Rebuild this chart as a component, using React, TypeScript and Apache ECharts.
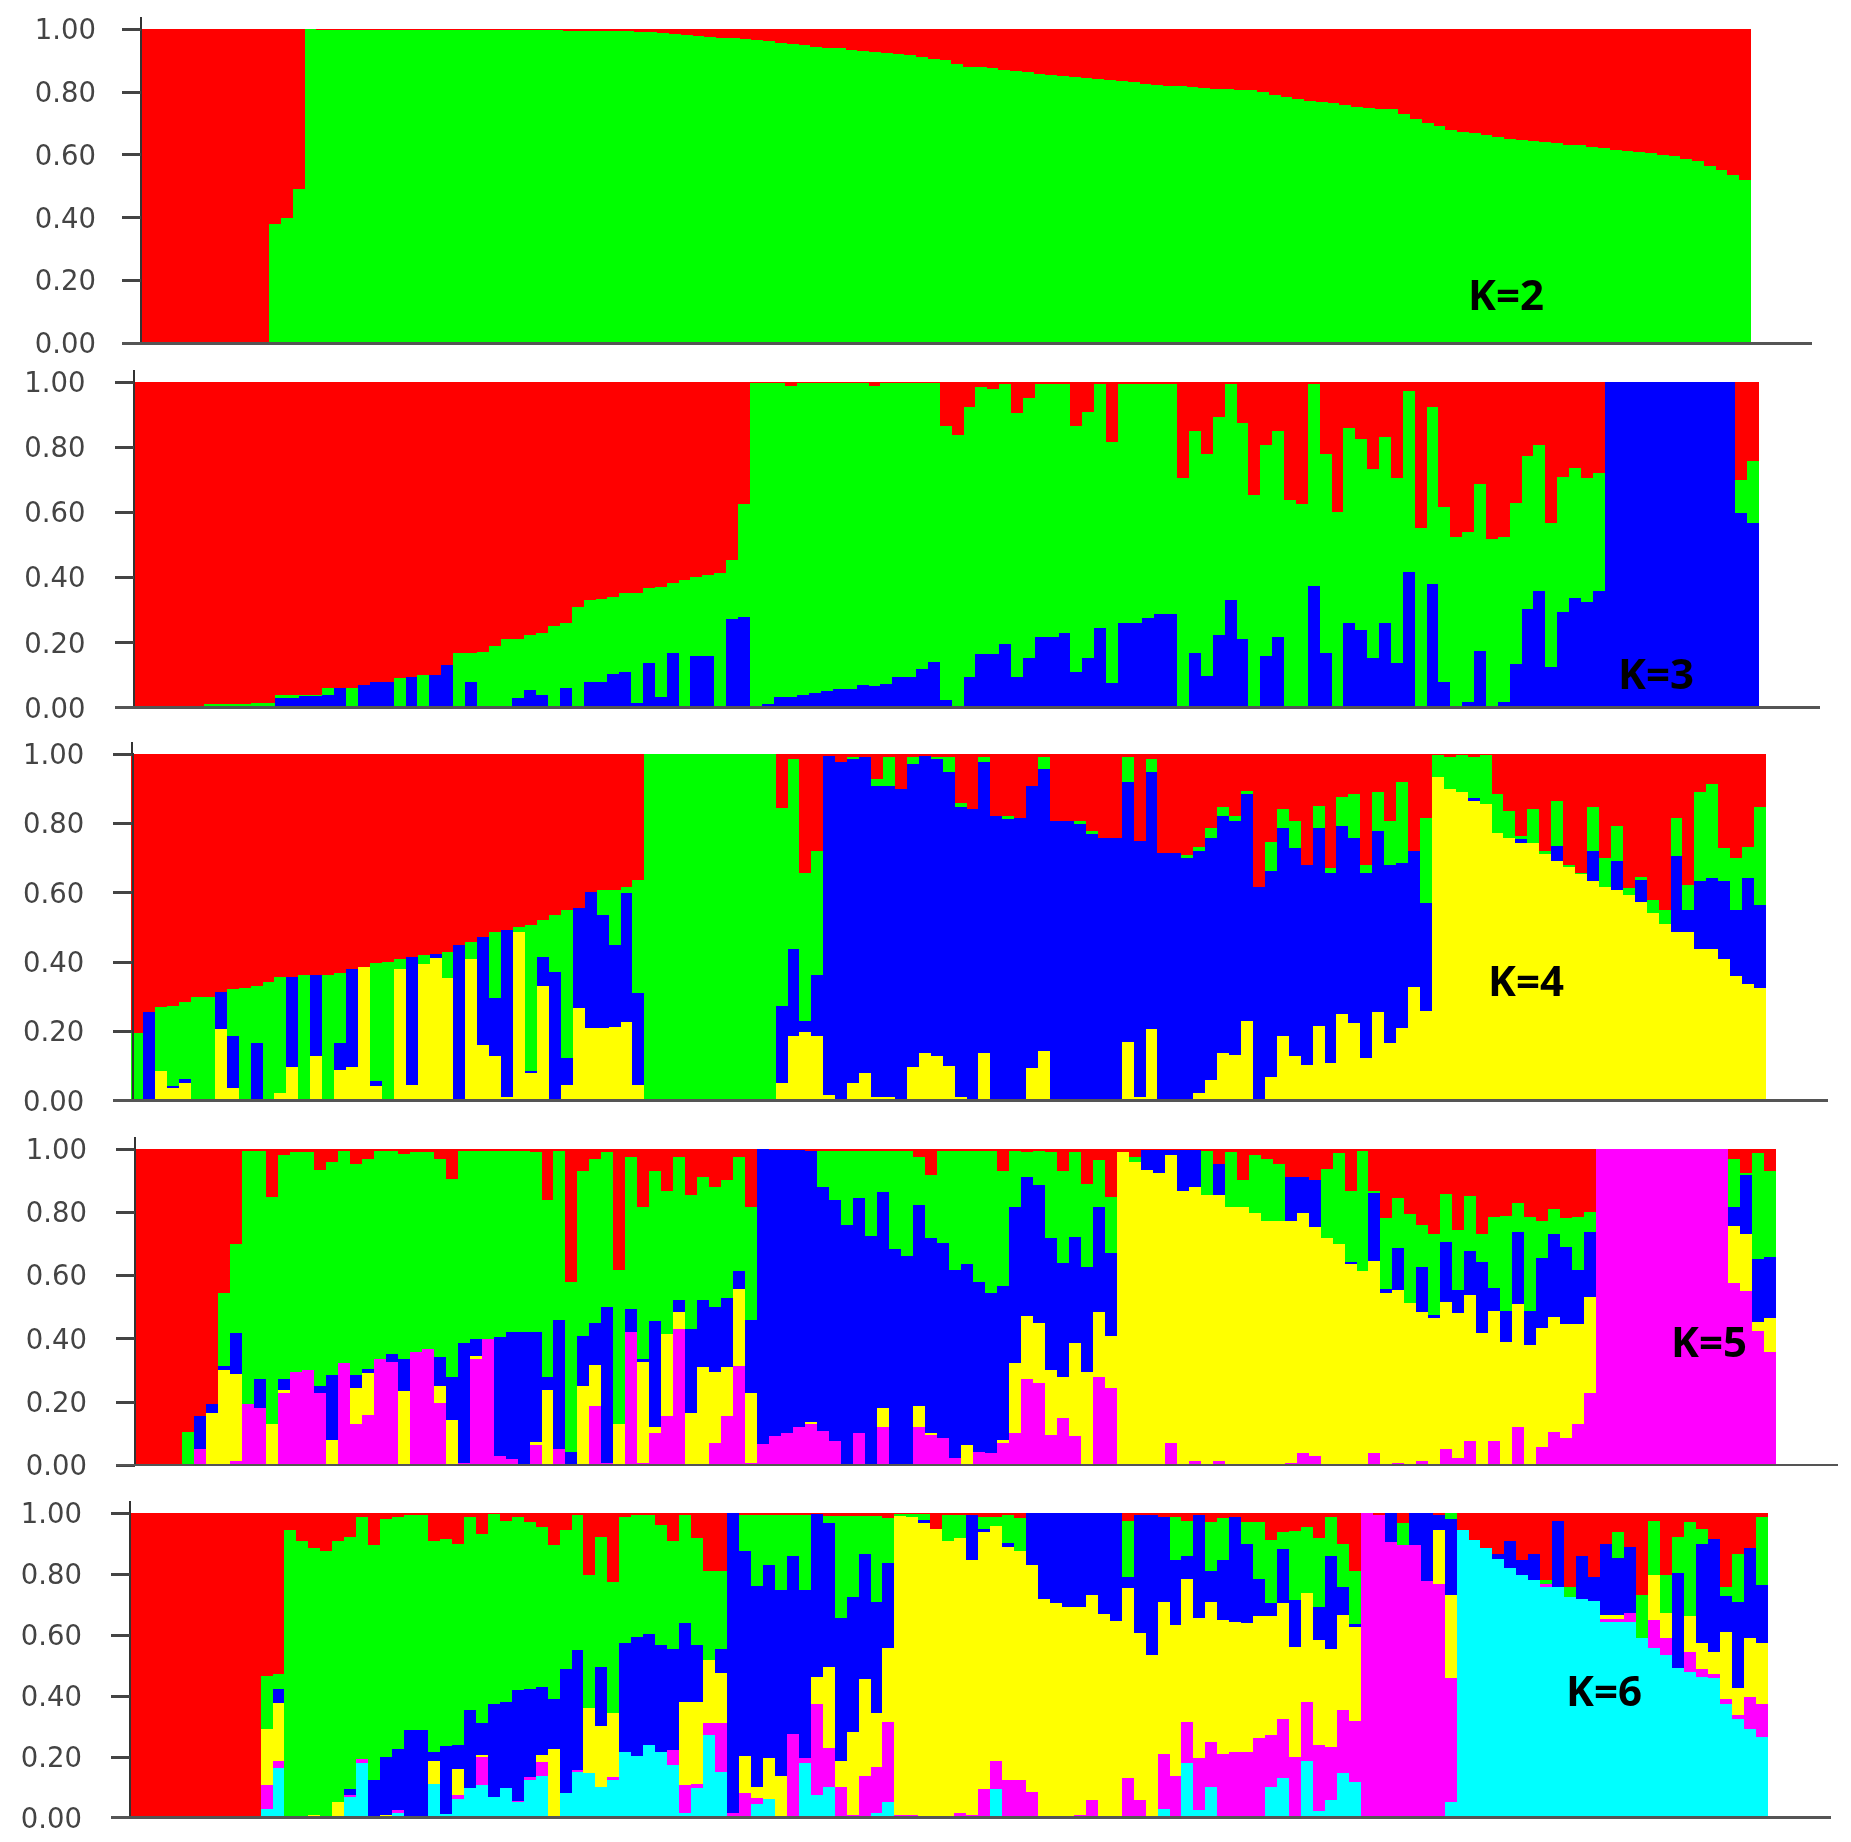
import React, { useEffect, useRef } from "react";
import * as echarts from "echarts";

const individuals = Array.from({ length: 137 }, (_, i) => String(i + 1));
const tickLabels = ["0.00", "0.20", "0.40", "0.60", "0.80", "1.00"];

// Each array holds the top edge of one colour at each bar (colours stack bottom to top, red fills the rest).
const k2Green = [
  0,0,0,0,0,0,0,0,0,0,
  0,.38,.40,.49,1,.997,.997,.997,.997,.997,
  .997,.997,.997,.997,.997,.997,.997,.997,.997,.997,
  .997,.997,.997,.997,.997,.997,.995,.995,.995,.995,
  .995,.995,.992,.99,.988,.985,.982,.979,.975,.972,
  .97,.968,.965,.962,.955,.952,.948,.944,.94,.938,
  .934,.93,.927,.924,.92,.917,.912,.905,.90,.89,
  .88,.878,.875,.87,.866,.862,.857,.855,.852,.848,
  .845,.842,.838,.834,.83,.826,.823,.82,.818,.815,
  .813,.81,.808,.806,.805,.80,.79,.783,.778,.772,
  .768,.763,.757,.752,.75,.747,.744,.73,.715,.70,
  .69,.68,.673,.668,.662,.655,.65,.647,.645,.642,
  .638,.632,.63,.625,.62,.615,.612,.608,.605,.60,
  .595,.585,.58,.565,.55,.535,.52,
];

const k3Blue = [
  0,0,0,0,0,0,0,0,0,0,
  .005,0,.03,.03,.035,.035,.04,.06,0,.07,
  .08,.08,0,.095,0,.10,.13,0,.08,0,
  0,0,.03,.055,.04,0,.06,0,.08,.08,
  .105,.11,.013,.138,.032,.167,0,.159,.159,0,
  .271,.279,.003,.01,.032,.032,.039,.045,.05,.057,
  .057,.07,.066,.073,.095,.095,.118,.14,.024,0,
  .095,.165,.165,.195,.095,.154,.218,.218,.23,.11,
  .154,.245,.075,.259,.259,.274,.288,.288,0,.167,
  .097,.223,.33,.21,0,.159,.216,0,0,.374,
  .167,0,.259,.238,.154,.259,.138,.418,0,.38,
  .08,0,.018,.174,0,.018,.133,.302,.359,.126,
  .295,.338,.323,.359,1,1,1,1,1,1,
  1,1,1,1,1,.597,.566,
];
const k3Green = [
  0,0,0,0,0,0,.01,.01,.01,.01,
  .015,.015,.04,.04,.04,.04,.06,.06,.06,.07,
  .08,.08,.09,.095,.10,.10,.13,.167,.167,.172,
  .19,.21,.21,.223,.23,.252,.26,.31,.33,.333,
  .339,.351,.353,.366,.371,.384,.392,.40,.407,.415,
  .453,.624,.996,.997,.997,.988,.997,.997,.997,.997,
  .997,.997,.988,.997,.997,.997,.997,.997,.866,.837,
  .924,.986,.978,.994,.904,.95,.994,.994,.994,.866,
  .909,.994,.817,.994,.994,.994,.994,.994,.704,.85,
  .78,.893,.994,.873,.653,.807,.85,.638,.625,.994,
  .78,.602,.858,.824,.732,.83,.704,.973,.553,.922,
  .617,.525,.538,.687,.517,.525,.63,.773,.807,.566,
  .707,.737,.704,.722,1,1,1,1,1,1,
  1,1,1,1,1,.70,.758,
];

const k4Yellow = [
  0,0,.087,.036,.05,0,0,.206,.036,0,
  0,0,.023,.096,0,.129,0,.088,.096,.385,
  .042,0,.379,.045,.394,.413,.353,0,.408,.16,
  .129,.012,.488,.079,.331,0,.045,.266,.209,.209,
  .213,.228,.045,0,0,0,0,0,0,0,
  0,0,0,0,.052,.187,.199,.187,.016,0,
  .05,.081,.012,.012,0,.096,.137,.129,.10,.012,
  0,.138,0,0,0,.093,.144,0,0,0,
  0,0,0,.17,.012,.207,0,0,0,.023,
  .06,.138,.132,.23,0,.067,.187,.129,.103,.215,
  .11,.25,.223,.122,.257,.165,.209,.329,.259,.933,
  .898,.891,.863,.856,.771,.757,.742,.742,.713,.692,
  .675,.654,.635,.615,.608,.593,.574,.54,.51,.488,
  .488,.437,.437,.408,.36,.337,.324,
];
const k4Blue = [
  0,.257,.087,.042,.064,0,0,.314,.187,0,
  .165,0,.023,.358,0,.364,0,.165,.379,.385,
  .058,0,.379,.415,.394,.423,.353,.449,.408,.473,
  .295,.492,.488,.087,.415,.372,.122,.555,.601,.536,
  .449,.598,.31,0,0,0,0,0,0,0,
  0,0,0,0,.273,.437,.23,.364,.994,.978,
  .987,.992,.908,.908,.898,.97,.994,.985,.949,.846,
  .84,.976,.821,.812,.814,.908,.956,.808,.808,.798,
  .769,.757,.757,.92,.75,.949,.715,.715,.699,.72,
  .757,.821,.808,.885,.615,.663,.786,.728,.68,.786,
  .656,.792,.757,.656,.779,.68,.685,.721,.571,.933,
  .898,.891,.872,.856,.771,.757,.754,.742,.713,.735,
  .675,.654,.721,.615,.692,.593,.638,.54,.51,.706,
  .55,.634,.641,.634,.55,.641,.564,
];
const k4Green = [
  .196,.257,.271,.273,.286,.30,.30,.314,.321,.324,
  .331,.343,.358,.358,.364,.364,.364,.369,.379,.385,
  .398,.40,.408,.415,.42,.423,.43,.449,.459,.473,
  .488,.492,.50,.507,.521,.535,.55,.555,.601,.608,
  .608,.615,.637,1,1,1,1,1,1,1,
  1,1,1,1,.843,.985,.658,.721,.994,.978,
  .99,.992,.927,.99,.898,.99,.994,.992,.99,.858,
  .84,.99,.821,.821,.814,.908,.99,.808,.808,.808,
  .779,.757,.757,.99,.75,.985,.715,.715,.709,.731,
  .786,.848,.821,.893,.615,.747,.84,.808,.68,.85,
  .67,.877,.885,.68,.891,.808,.92,.721,.814,.997,
  .992,.997,.992,.997,.885,.836,.763,.84,.721,.863,
  .68,.658,.848,.699,.792,.613,.646,.579,.55,.814,
  .622,.891,.913,.728,.699,.733,.848,
];

const k5Magenta = [
  0,0,0,0,0,.05,0,0,.014,.193,
  .18,0,.227,.295,.30,.229,0,.322,.13,.158,
  .334,.327,0,.357,.366,.197,0,.005,.334,.40,
  .028,.02,0,.063,0,.05,0,0,.187,.005,
  0,.422,.005,.10,.155,.429,0,0,.07,.155,
  .313,.007,.066,.092,.10,.121,.13,.109,.077,0,
  .10,0,.121,0,0,.121,.095,.084,.021,0,
  .042,.037,.069,.10,.271,.258,.095,.15,.092,0,
  .28,.243,0,0,0,0,.07,0,.014,0,
  .014,0,0,0,0,0,.007,.037,.028,0,
  0,0,0,.037,0,.007,0,.014,0,.05,
  .021,.077,0,.077,0,.119,0,.056,.105,.084,
  .13,.229,1,1,1,1,1,1,1,1,
  1,1,1,.575,.552,.425,.359,
];
const k5Yellow = [
  0,0,0,0,0,.05,.166,.30,.287,.193,
  .18,.13,.237,.295,.30,.229,.079,.322,.243,.292,
  .334,.327,.235,.357,.366,.251,.142,.005,.345,.40,
  .03,.02,0,.074,.237,.05,0,.251,.316,.005,
  .13,.422,.327,.119,.415,.485,.166,.309,.295,.309,
  .556,.229,.066,.092,.10,.121,.137,.109,.077,0,
  .10,0,.179,0,0,.187,.102,.084,.021,.063,
  .042,.037,.079,.322,.472,.45,.30,.28,.387,.295,
  .485,.408,.992,.96,.934,.925,.98,.868,.881,.854,
  .854,.815,.815,.796,.773,.773,.773,.796,.754,.717,
  .70,.636,.615,.647,.545,.554,.514,.485,.464,.517,
  .482,.538,.417,.488,.39,.51,.38,.432,.467,.446,
  .446,.531,1,1,1,1,1,1,1,1,
  1,1,1,.756,.731,.454,.464,
];
const k5Blue = [
  0,0,0,0,0,.155,.193,.313,.417,.193,
  .271,.13,.271,.295,.30,.25,.285,.322,.285,.303,
  .334,.35,.334,.357,.366,.343,.28,.385,.40,.40,
  .406,.42,.42,.42,.277,.459,.042,.408,.45,.50,
  .13,.493,.334,.457,.415,.522,.429,.522,.501,.53,
  .615,.459,1,.997,.997,.997,.995,.881,.839,.759,
  .844,.725,.865,.682,.661,.823,.717,.701,.617,.636,
  .578,.545,.566,.815,.91,.886,.717,.638,.723,.626,
  .815,.672,.992,.96,.997,.997,.997,.997,.997,.854,
  .953,.815,.815,.796,.773,.773,.91,.91,.902,.717,
  .70,.643,.615,.86,.556,.686,.514,.628,.475,.707,
  .554,.678,.643,.559,.488,.738,.488,.654,.731,.689,
  .617,.738,1,1,1,1,1,1,1,1,
  1,1,1,.815,.918,.651,.657,
];
const k5Green = [
  0,0,0,0,.105,.155,.193,.543,.70,.995,
  .995,.847,.98,.99,.99,.934,.96,.995,.953,.967,
  .995,.995,.983,.99,.99,.967,.904,.995,.995,.995,
  .995,.995,.995,.99,.839,.995,.58,.931,.967,.99,
  .617,.974,.818,.931,.868,.974,.854,.91,.881,.902,
  .974,.815,1,.997,.997,.997,.995,.995,.995,.995,
  .995,.995,.995,.995,.995,.976,.918,.995,.995,.995,
  .995,.995,.931,.995,.99,.995,.99,.931,.99,.889,
  .965,.847,.992,.976,.997,.997,.997,.997,.997,.995,
  .953,.99,.902,.98,.967,.953,.91,.91,.902,.936,
  .988,.867,.995,.868,.781,.844,.794,.76,.731,.858,
  .744,.851,.731,.784,.788,.828,.786,.773,.809,.781,
  .786,.802,1,1,1,1,1,1,1,1,
  1,1,1,.967,.923,.988,.931,
];

const k6Cyan = [
  0,0,0,0,0,0,0,0,0,0,
  0,.03,.162,0,0,0,0,0,.067,.179,
  0,0,.014,0,0,.11,.011,.06,.096,.107,
  .069,.096,.053,.124,.137,0,.08,.151,.146,.102,
  .124,.217,.203,.239,.217,.173,.016,.096,.272,.151,
  0,0,.045,.06,0,0,.18,.074,.102,0,
  0,0,.016,.053,0,0,0,0,0,0,
  0,0,.093,0,0,0,0,0,0,0,
  0,0,0,0,0,0,.03,0,.179,.025,
  .102,0,0,0,0,.102,.131,0,.187,.023,
  .058,.146,.118,0,0,0,0,0,0,0,
  .053,.945,.912,.885,.849,.819,.797,.781,.759,.757,
  .724,.72,.713,.644,.644,.644,.589,.556,.534,.491,
  .48,.463,.458,.374,.323,.29,.266,
];
const k6Magenta = [
  0,0,0,0,0,0,0,0,0,0,
  0,.107,.187,0,0,0,0,0,.074,.192,
  0,0,.025,0,0,.11,.011,.074,.096,.20,
  .069,.096,.056,.133,.184,0,.08,.157,.146,.102,
  .133,.217,.203,.239,.217,.222,.107,.11,.31,.31,
  .016,.08,.064,.06,0,.275,.195,.373,.228,.102,
  .009,.137,.168,.315,.008,.009,0,0,0,.014,
  .009,.093,.187,.124,.124,.085,0,0,0,.009,
  .058,0,0,.129,.058,0,.209,.137,.315,.195,
  .25,.209,.217,.217,.261,.272,.323,.20,.381,.239,
  .231,.354,.319,1,.995,.907,.896,.896,.776,.768,
  .458,.945,.912,.885,.849,.819,.797,.781,.768,.757,
  .724,.72,.713,.652,.652,.674,.589,.65,.589,.491,
  .545,.487,.472,.389,.337,.398,.373,
];
const k6Yellow = [
  0,0,0,0,0,0,0,0,0,0,
  0,.293,.378,0,0,.009,0,.053,.074,.192,
  0,.009,.025,0,0,.187,.011,.159,.096,.206,
  .069,.096,.056,.133,.206,.225,.08,.157,.359,.301,
  .345,.217,.203,.239,.217,.222,.381,.381,.518,.474,
  .016,.203,.102,.195,.137,.275,.195,.461,.496,.187,
  .283,.455,.345,.556,.99,.987,.967,.95,.91,.918,
  .847,.94,.958,.89,.877,.83,.72,.704,.691,.691,
  .732,.669,.647,.754,.606,.534,.71,.633,.783,.655,
  .71,.65,.644,.639,.663,.663,.704,.562,.737,.584,
  .553,.666,.628,1,.995,.907,.896,.896,.776,.945,
  .732,.945,.912,.885,.849,.819,.797,.781,.768,.757,
  .724,.72,.713,.666,.666,.674,.589,.798,.671,.491,
  .663,.573,.545,.611,.425,.589,.575,
];
const k6Blue = [
  0,0,0,0,0,0,0,0,0,0,
  0,.293,.422,0,0,.009,0,.053,.093,.192,
  .124,.20,.225,.288,.288,.217,.235,.239,.354,.31,
  .373,.381,.419,.422,.43,.389,.487,.551,.359,.496,
  .345,.573,.595,.603,.567,.553,.639,.567,.518,.553,
  1,.877,.761,.83,.748,.86,.748,.998,.969,.655,
  .726,.866,.71,.838,.99,.987,.978,.95,.91,.918,
  .995,.95,.958,.904,.877,1,1,1,1,1,
  1,1,1,.79,.995,.995,.989,.847,.86,.995,
  .811,.847,.987,.90,.783,.704,.882,.715,.737,.691,
  .86,.759,.636,1,.995,1,.896,1,1,.995,
  .98,.945,.912,.885,.867,.91,.847,.866,.768,.976,
  .724,.86,.79,.90,.852,.89,.589,.798,.671,.803,
  .663,.90,.915,.728,.71,.885,.765,
];
const k6Green = [
  0,0,0,0,0,0,0,0,0,0,
  0,.465,.472,.945,.91,.887,.876,.91,.923,.989,
  .896,.98,.989,.995,.995,.91,.915,.90,.989,.932,
  .998,.976,.989,.973,.954,.896,.945,.995,.797,.923,
  .775,.987,.995,.995,.962,.91,.995,.918,.81,.81,
  1,.995,.995,.995,.995,.995,.995,.998,.991,.991,
  .991,.991,.991,.984,.997,.997,.997,.95,.995,.995,
  .995,.987,.987,.995,.984,1,1,1,1,1,
  1,1,1,.976,.995,.995,.989,.987,.976,.995,
  .97,.984,.987,.973,.973,.912,.94,.943,.954,.919,
  .989,.90,.811,1,.995,1,.968,1,1,.995,
  1,.945,.912,.885,.867,.91,.847,.866,.781,.976,
  .757,.86,.79,.90,.94,.89,.731,.976,.797,.923,
  .973,.95,.915,.759,.866,.885,.987,
];

const RED = "#ff0000", GREEN = "#00ff00", BLUE = "#0000ff", YELLOW = "#ffff00", MAGENTA = "#ff00ff", CYAN = "#00ffff";

const panels = [
  { name: "K=2", layers: [k2Green], colors: [GREEN], left: 140, right: 1751, top: 29, bottom: 343.3, axisEnd: 1812, labelX: 1506, labelY: 293, margin: 45 },
  { name: "K=3", layers: [k3Blue, k3Green], colors: [BLUE, GREEN], left: 132.5, right: 1759, top: 382, bottom: 707.7, axisEnd: 1820, labelX: 1656, labelY: 672, margin: 48 },
  { name: "K=4", layers: [k4Yellow, k4Blue, k4Green], colors: [YELLOW, BLUE, GREEN], left: 131.3, right: 1766, top: 754, bottom: 1100.7, axisEnd: 1828, labelX: 1526, labelY: 979, margin: 48 },
  { name: "K=5", layers: [k5Magenta, k5Yellow, k5Blue, k5Green], colors: [MAGENTA, YELLOW, BLUE, GREEN], left: 134, right: 1776, top: 1149, bottom: 1465, axisEnd: 1838, labelX: 1709, labelY: 1340, margin: 48 },
  { name: "K=6", layers: [k6Cyan, k6Magenta, k6Yellow, k6Blue, k6Green], colors: [CYAN, MAGENTA, YELLOW, BLUE, GREEN], left: 129, right: 1767.5, top: 1513.3, bottom: 1817.7, axisEnd: 1831, labelX: 1604, labelY: 1689, margin: 48 },
];

const WIDTH = 1851;
const HEIGHT = 1842;
const AXIS_COLOR = "#333333";

function buildOption() {
  const grid: any[] = [];
  const xAxis: any[] = [];
  const yAxis: any[] = [];
  const series: any[] = [];
  const graphic: any[] = [];

  panels.forEach((p, pi) => {
    grid.push({ left: p.left, top: p.top, width: p.right - p.left, height: p.bottom - p.top, containLabel: false });
    xAxis.push({
      type: "category",
      gridIndex: pi,
      data: individuals,
      boundaryGap: true,
      axisLine: { show: false },
      axisTick: { show: false },
      axisLabel: { show: false },
      splitLine: { show: false },
    });
    yAxis.push({
      type: "value",
      gridIndex: pi,
      min: 0,
      max: 1,
      interval: 0.2,
      offset: -1,
      z: 6,
      axisLine: { show: true, lineStyle: { color: AXIS_COLOR, width: 2 } },
      axisTick: { show: true, length: 19, lineStyle: { color: "#444444", width: 2.5 } },
      splitLine: { show: false },
      axisLabel: {
        margin: p.margin,
        color: "#444444",
        fontFamily: "DejaVu Sans",
        fontSize: 27.5,
        formatter: (v: number) => tickLabels[Math.round(v * 5)],
      },
    });

    const tops = [...p.layers, individuals.map(() => 1)];
    const colors = [...p.colors, RED];
    tops.forEach((top, li) => {
      const prev = li === 0 ? null : tops[li - 1];
      series.push({
        type: "bar",
        xAxisIndex: pi,
        yAxisIndex: pi,
        stack: p.name,
        barWidth: "100%",
        barCategoryGap: 0,
        silent: true,
        itemStyle: { color: colors[li] },
        data: top.map((t, i) => {
          const d = t - (prev ? prev[i] : 0);
          return d > 0.0005 ? +d.toFixed(4) : null;
        }),
      });
    });

    const axisX = p.left + 1;
    graphic.push({
      type: "line",
      z: 20,
      shape: { x1: axisX, y1: p.top - 12, x2: axisX, y2: p.top },
      style: { stroke: AXIS_COLOR, lineWidth: 2 },
    });
    graphic.push({
      type: "line",
      z: 20,
      shape: { x1: axisX - 19, y1: p.bottom, x2: p.axisEnd, y2: p.bottom },
      style: { stroke: "#555555", lineWidth: 2.5 },
    });
    graphic.push({
      type: "text",
      z: 30,
      x: p.labelX,
      y: p.labelY,
      style: {
        text: p.name,
        fill: "#000000",
        font: "bold 42px 'Noto Sans'",
        textAlign: "center",
        textVerticalAlign: "middle",
      },
    });
  });

  return { animation: false, backgroundColor: "#ffffff", grid, xAxis, yAxis, series, graphic };
}

export default function App() {
  const ref = useRef<HTMLDivElement>(null);
  useEffect(() => {
    document.body.style.margin = "0";
    const chart = echarts.init(ref.current!, undefined, { renderer: "svg", width: WIDTH, height: HEIGHT });
    chart.setOption(buildOption());
    return () => chart.dispose();
  }, []);
  return (
    <>
      <style>{".structure-chart svg path { shape-rendering: crispEdges; }"}</style>
      <div className="structure-chart" ref={ref} style={{ width: WIDTH, height: HEIGHT, filter: "blur(0.7px)" }} />
    </>
  );
}
